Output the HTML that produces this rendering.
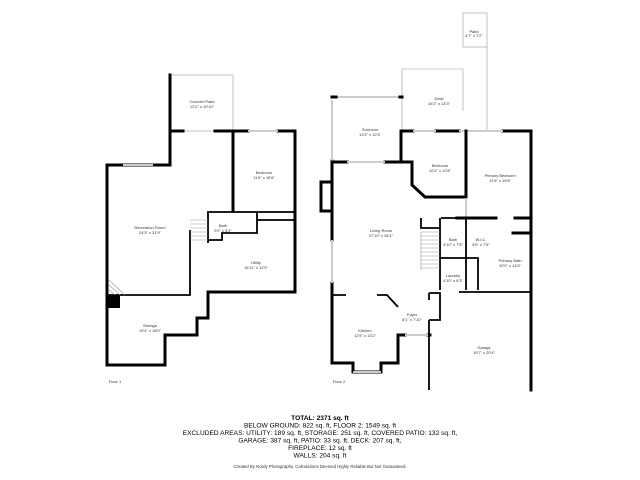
<!DOCTYPE html>
<html><head><meta charset="utf-8"><style>
html,body{margin:0;padding:0;background:#fff;width:640px;height:480px;overflow:hidden}
svg{display:block}
.w{stroke:#000;stroke-width:3;fill:none;stroke-linecap:square}
.t{stroke:#000;stroke-width:1.8;fill:none}
.g{stroke:#ccc;stroke-width:2;fill:none}
.l{stroke:#999;stroke-width:0.6;fill:none}
text{font-family:"Liberation Sans",sans-serif;fill:#333;text-anchor:middle}
.r{font-size:4px}
.s{font-size:6.6px;fill:#000}
</style></head><body>
<svg width="640" height="480" viewBox="0 0 640 480">
<!-- Floor 1 -->
<rect x="170" y="75" width="63" height="56" class="l"/>
<path class="w" d="M170 75V165H107V365H165V335H197V318H208V292H295V131H278"/>
<path class="w" d="M215 131H248M170 131H183"/>
<path class="g" d="M248 131H278M123 165H153"/>
<path class="w" d="M233 131V210"/>
<path class="t" d="M208 243V212H257V225M257 212H295M208 240H222V233H257V225M257 220H295M190 230V295H107"/>
<path class="l" d="M190 220H208M190 224H208M190 228H208M190 232H208M190 236H208M190 240H208"/>
<rect x="107" y="295" width="13" height="13" fill="#000"/>
<path class="l" d="M109 280L125 295M109 285L120 295M109 290L115 295"/>
<text class="r" x="202" y="103">Covered Patio</text><text class="r" x="202" y="108">12'2" x 10'10"</text>
<text class="r" x="264" y="174">Bedroom</text><text class="r" x="264" y="179">11'6" x 15'6"</text>
<text class="r" x="150" y="229">Recreation Room</text><text class="r" x="150" y="234">24'3" x 31'9"</text>
<text class="r" x="223" y="227">Bath</text><text class="r" x="223" y="232">9'2" x 5'4"</text>
<text class="r" x="256" y="264">Utility</text><text class="r" x="256" y="269">16'11" x 12'9"</text>
<text class="r" x="150" y="327">Storage</text><text class="r" x="150" y="332">19'4" x 18'0"</text>
<text class="r" x="115" y="383">Floor 1</text>
<!-- Floor 2 -->
<rect x="463" y="13" width="24" height="34" class="l"/>
<path class="l" d="M402 131V69H463V111M487 47V131"/>
<path class="w" d="M402 131H413M436 131H459M503 131H531V390"/>
<path class="g" d="M413 131H436M459 131H503M335 97H400"/>
<path class="w" d="M332 97H336M400 97H402M332 161V240M332 283V363H353V372H381V363H398V335H405M428 335H430"/>
<path class="g" d="M332 100V161M332 240V283M353 372H381M405 335H428"/>
<path class="w" d="M321 182H332V211H321Z"/>
<path class="w" d="M332 162H347M385 162H412V185L425 197H466V131M401 131V162"/>
<path class="g" d="M347 162H385M466 198V218"/>
<path class="w" d="M457 218H496M515 218H531M513 233H531"/>
<path class="t" d="M421 218V228H440M440 218V290M466 218V290M440 258H478V290M459 292H531M429 293H440V320H429M429 320V390M429 300V293"/>
<path class="t" d="M441 218H466M332 295H346M377 295H387L398 307"/>
<path class="l" d="M421 232H440M421 236H440M421 240H440M421 244H440M421 248H440M421 252H440M421 256H440M421 260H440M421 264H440M421 268H440M421 232V270"/>
<text class="r" x="474" y="33">Patio</text><text class="r" x="474" y="37">4'7" x 7'2"</text>
<text class="r" x="439" y="100">Deck</text><text class="r" x="439" y="105">16'2" x 14'3"</text>
<text class="r" x="370" y="131">Sunroom</text><text class="r" x="370" y="136">13'3" x 12'3"</text>
<text class="r" x="440" y="167">Bedroom</text><text class="r" x="440" y="172">10'2" x 12'8"</text>
<text class="r" x="500" y="177">Primary Bedroom</text><text class="r" x="500" y="182">12'6" x 16'8"</text>
<text class="r" x="381" y="232">Living Room</text><text class="r" x="381" y="237">27'10" x 26'1"</text>
<text class="r" x="453" y="241">Bath</text><text class="r" x="453" y="246">4'10" x 7'5"</text>
<text class="r" x="481" y="241">W.I.C.</text><text class="r" x="481" y="246">5'5" x 7'5"</text>
<text class="r" x="510" y="262">Primary Bath</text><text class="r" x="510" y="267">10'0" x 14'0"</text>
<text class="r" x="453" y="277">Laundry</text><text class="r" x="453" y="282">4'10" x 6'3"</text>
<text class="r" x="412" y="316">Foyer</text><text class="r" x="412" y="321">8'1" x 7'10"</text>
<text class="r" x="365" y="332">Kitchen</text><text class="r" x="365" y="337">12'5" x 13'2"</text>
<text class="r" x="484" y="349">Garage</text><text class="r" x="484" y="354">19'7" x 20'4"</text>
<text class="r" x="339" y="383">Floor 2</text>
<!-- Summary -->
<text class="s" x="320" y="420" style="font-weight:bold">TOTAL: 2371 sq. ft</text>
<text class="s" x="320" y="427.5">BELOW GROUND: 822 sq. ft, FLOOR 2: 1549 sq. ft</text>
<text class="s" x="320" y="435">EXCLUDED AREAS: UTILITY: 189 sq. ft, STORAGE: 251 sq. ft, COVERED PATIO: 132 sq. ft,</text>
<text class="s" x="320" y="442.5">GARAGE: 387 sq. ft, PATIO: 33 sq. ft, DECK: 207 sq. ft,</text>
<text class="s" x="320" y="450">FIREPLACE: 12 sq. ft</text>
<text class="s" x="320" y="457.5">WALLS: 204 sq. ft</text>
<text x="320" y="468" style="font-size:4.3px">Created By Nordy Photography. Calculations Deemed Highly Reliable But Not Guaranteed.</text>
</svg>
</body></html>
